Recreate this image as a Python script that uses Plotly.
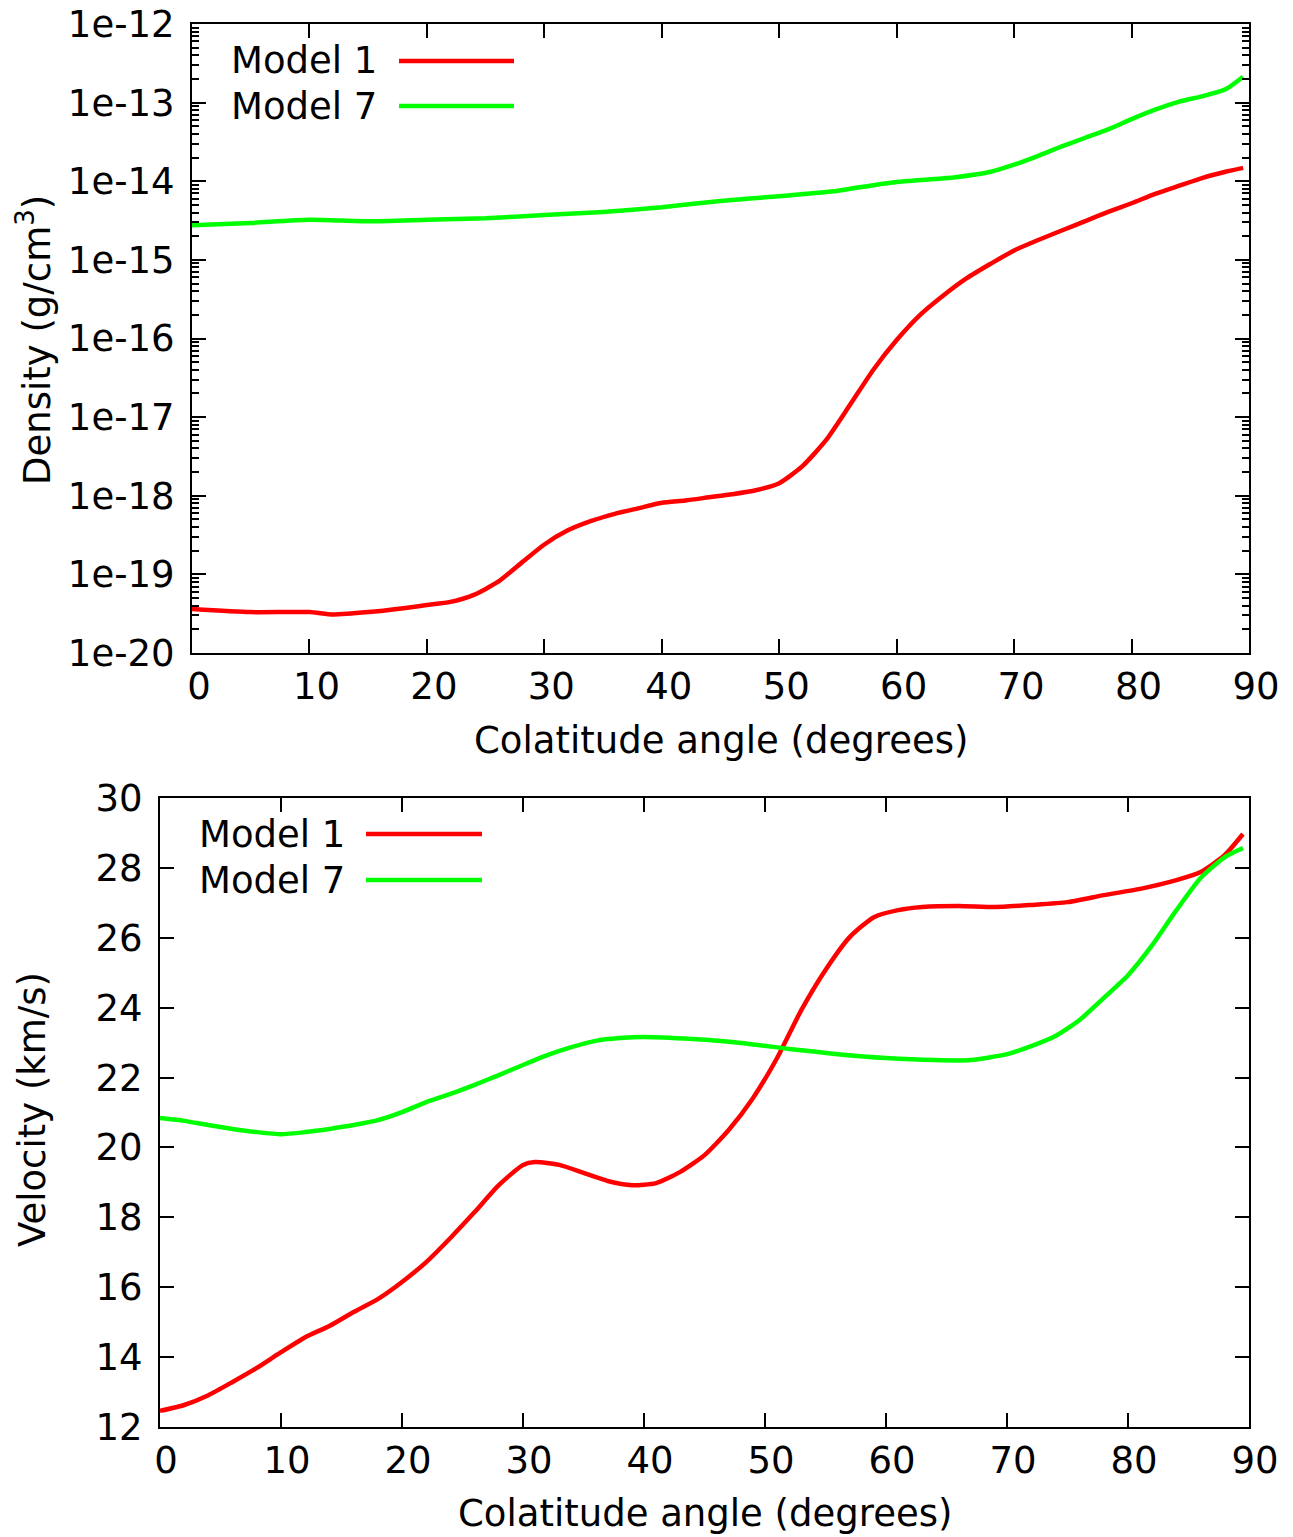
import plotly.graph_objects as go

# ---------- data ----------
angle_d1 = [0, 5, 10, 12, 15, 18, 20, 22, 24, 26, 28, 30, 32, 34, 36, 38, 40, 42, 44, 46, 48, 50,
            52, 54, 56, 58, 60, 62, 64, 66, 68, 70, 72, 74, 76, 78, 80, 82, 84, 86, 88, 89.5]
logrho_m1 = [-19.44, -19.48, -19.48, -19.51, -19.48, -19.43, -19.39, -19.35, -19.26, -19.10, -18.86,
             -18.62, -18.44, -18.32, -18.23, -18.16, -18.09, -18.06, -18.02, -17.98, -17.93, -17.84,
             -17.62, -17.29, -16.85, -16.40, -16.02, -15.70, -15.45, -15.23, -15.05, -14.88, -14.75,
             -14.63, -14.51, -14.39, -14.28, -14.16, -14.06, -13.96, -13.88, -13.83]

angle_d7 = [0, 5, 10, 15, 20, 25, 30, 35, 40, 45, 50, 55, 58, 60, 65, 68, 70, 72, 74, 76, 78, 80,
            82, 84, 86, 88, 89.5]
logrho_m7 = [-14.56, -14.53, -14.49, -14.51, -14.49, -14.47, -14.43, -14.39, -14.33, -14.25, -14.19,
             -14.12, -14.05, -14.01, -13.95, -13.88, -13.79, -13.68, -13.56, -13.45, -13.34, -13.21,
             -13.09, -12.99, -12.92, -12.83, -12.67]

angle_v1 = [0, 2, 4, 6, 8, 10, 12, 14, 16, 18, 20, 22, 24, 26, 28, 30, 31, 33, 35, 37, 39, 41, 43,
            45, 47, 49, 51, 53, 55, 57, 59, 61, 63, 66, 69, 72, 75, 78, 81, 84, 86, 88, 89.5]
vel_m1 = [12.46, 12.63, 12.91, 13.29, 13.69, 14.14, 14.57, 14.89, 15.29, 15.66, 16.15, 16.72, 17.41,
          18.15, 18.92, 19.50, 19.58, 19.50, 19.27, 19.04, 18.92, 18.98, 19.30, 19.78, 20.50, 21.41,
          22.56, 23.93, 25.08, 26.02, 26.59, 26.79, 26.88, 26.91, 26.88, 26.94, 27.02, 27.22, 27.40,
          27.65, 27.88, 28.37, 28.97]

angle_v7 = [0, 2, 4, 6, 8, 10, 12, 14, 16, 18, 20, 22, 24, 26, 28, 30, 32, 34, 36, 38, 40, 44, 48,
            52, 56, 60, 64, 67, 70, 72, 74, 76, 78, 80, 82, 84, 86, 88, 89.5]
vel_m7 = [20.84, 20.76, 20.64, 20.53, 20.44, 20.38, 20.44, 20.53, 20.64, 20.78, 21.01, 21.30, 21.53,
          21.79, 22.07, 22.36, 22.64, 22.87, 23.05, 23.13, 23.16, 23.10, 22.99, 22.82, 22.67, 22.56,
          22.50, 22.50, 22.67, 22.90, 23.19, 23.65, 24.28, 24.93, 25.79, 26.79, 27.71, 28.31, 28.57]

x_ticks = [0, 10, 20, 30, 40, 50, 60, 70, 80, 90]
rho_exps = [-20, -19, -18, -17, -16, -15, -14, -13, -12]
rho_tickvals = [10.0 ** e for e in rho_exps]
rho_ticktext = [f"1e{e}" for e in rho_exps]
vel_ticks = [12, 14, 16, 18, 20, 22, 24, 26, 28, 30]

series_names = ["Model 1", "Model 7"]
series_colors = ["#ff0000", "#00ff00"]

# ---------- figure ----------
W, H = 1293, 1537
FONT = "DejaVu Sans"
FS = 37

fig = go.Figure()

def line(x, y, color, xa, ya):
    return go.Scatter(x=x, y=y, mode="lines", xaxis=xa, yaxis=ya, showlegend=False,
                      line=dict(color=color, width=4.5, shape="spline", smoothing=0.6))

fig.add_trace(line(angle_d1, [10 ** v for v in logrho_m1], series_colors[0], "x", "y"))
fig.add_trace(line(angle_d7, [10 ** v for v in logrho_m7], series_colors[1], "x", "y"))
fig.add_trace(line(angle_v1, vel_m1, series_colors[0], "x2", "y2"))
fig.add_trace(line(angle_v7, vel_m7, series_colors[1], "x2", "y2"))

def px_x(p):
    return p / W

def px_y(p):
    return 1 - p / H

axis_common = dict(showline=True, linecolor="black", linewidth=2, mirror="allticks",
                   ticks="inside", ticklen=14, tickwidth=2, tickcolor="black",
                   showgrid=False, zeroline=False, automargin=False,
                   tickfont=dict(family=FONT, size=FS, color="black"))

fig.update_layout(
    width=W, height=H,
    margin=dict(l=0, r=0, t=0, b=0, autoexpand=False),
    paper_bgcolor="white", plot_bgcolor="white",
    font=dict(family=FONT, size=FS, color="black"),
    xaxis=dict(domain=[px_x(192), px_x(1249)], anchor="y", range=[0, 90],
               tickvals=x_ticks, ticklabelshift=7, **axis_common),
    yaxis=dict(domain=[px_y(653), px_y(24)], anchor="x", type="log", range=[-20, -12],
               tickvals=rho_tickvals, ticktext=rho_ticktext, ticklabelstandoff=8,
               minor=dict(ticks="inside", ticklen=7, tickwidth=1.5, tickcolor="black",
                          showgrid=False, tickmode="linear", tick0=0, dtick="D1"),
               **axis_common),
    xaxis2=dict(domain=[px_x(160), px_x(1249)], anchor="y2", range=[0, 90],
                tickvals=x_ticks, ticklabelshift=6, **axis_common),
    yaxis2=dict(domain=[px_y(1427), px_y(798)], anchor="x2", range=[12, 30],
                tickvals=vel_ticks, ticklabelstandoff=8, **axis_common),
)

# axis titles
ann = [
    dict(text="Density (g/cm<sup>3</sup>)", x=px_x(35), y=px_y(340), textangle=-90),
    dict(text="Colatitude angle (degrees)", x=px_x(721), y=px_y(740), textangle=0),
    dict(text="Velocity (km/s)", x=px_x(32), y=px_y(1110), textangle=-90),
    dict(text="Colatitude angle (degrees)", x=px_x(705), y=px_y(1513), textangle=0),
]
for a in ann:
    fig.add_annotation(xref="paper", yref="paper", showarrow=False,
                       xanchor="center", yanchor="middle",
                       font=dict(family=FONT, size=FS, color="black"), **a)

# gnuplot-style legends (text then line sample)
legends = [
    dict(text_right=379, line_x=(399, 514), rows=[61, 106]),
    dict(text_right=347, line_x=(366, 482), rows=[834, 880]),
]
for lg in legends:
    for name, color, ry in zip(series_names, series_colors, lg["rows"]):
        fig.add_annotation(xref="paper", yref="paper", showarrow=False,
                           x=px_x(lg["text_right"]), y=px_y(ry),
                           xanchor="right", yanchor="middle", text=name,
                           font=dict(family=FONT, size=FS, color="black"))
        fig.add_shape(type="line", xref="paper", yref="paper",
                      x0=px_x(lg["line_x"][0]), x1=px_x(lg["line_x"][1]),
                      y0=px_y(ry), y1=px_y(ry),
                      line=dict(color=color, width=4.5))

fig.write_html("out.html")
